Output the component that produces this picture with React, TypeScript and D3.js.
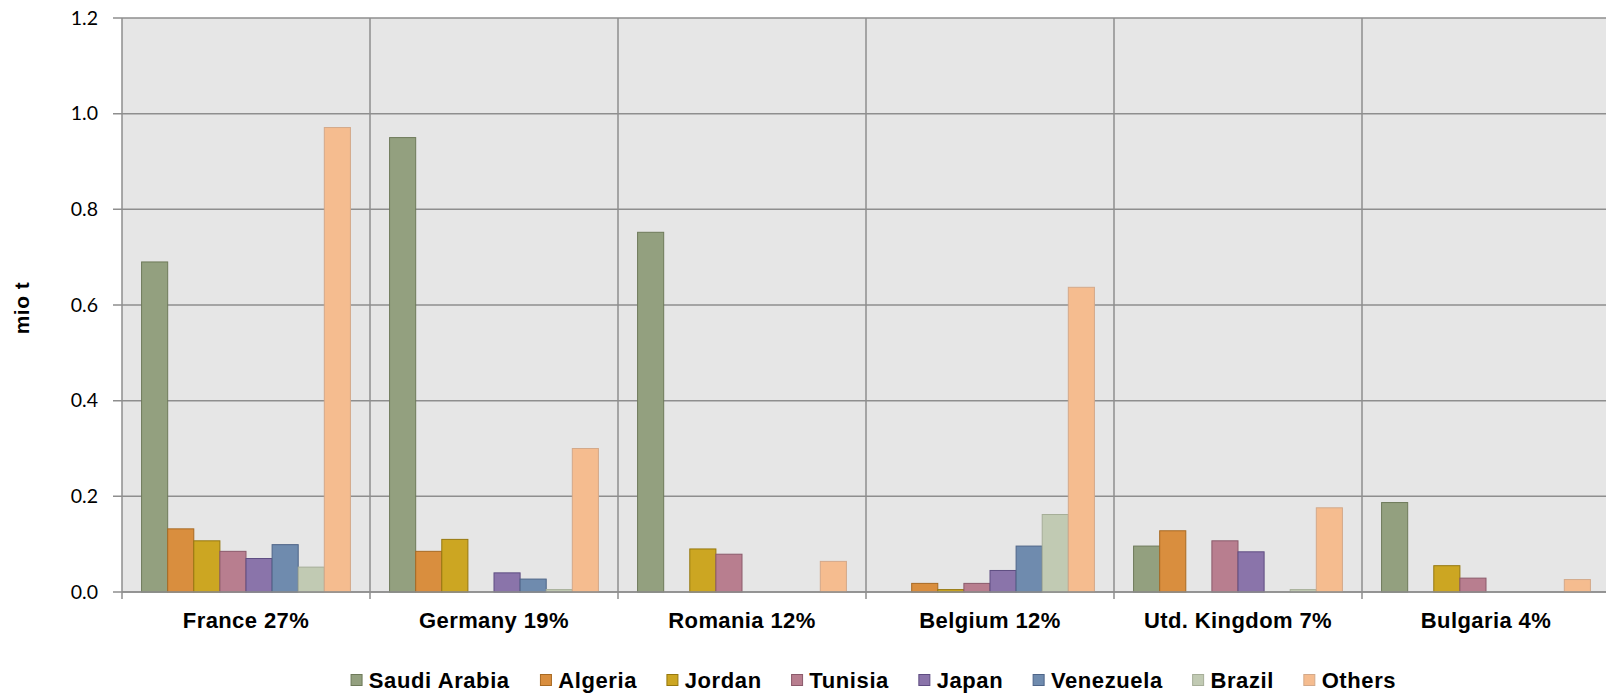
import React from "react";
import * as d3 from "d3";

const categories = ["France 27%", "Germany 19%", "Romania 12%", "Belgium 12%", "Utd. Kingdom 7%", "Bulgaria 4%"];
const seriesNames = ["Saudi Arabia", "Algeria", "Jordan", "Tunisia", "Japan", "Venezuela", "Brazil", "Others"];
const saudiArabia = [0.69, 0.95, 0.752, 0, 0.096, 0.187];
const algeria = [0.132, 0.085, 0, 0.018, 0.128, 0];
const jordan = [0.107, 0.11, 0.09, 0.005, 0, 0.055];
const tunisia = [0.085, 0, 0.079, 0.018, 0.107, 0.029];
const japan = [0.07, 0.04, 0, 0.045, 0.084, 0];
const venezuela = [0.099, 0.027, 0, 0.096, 0, 0];
const brazil = [0.052, 0.005, 0, 0.162, 0.005, 0];
const others = [0.971, 0.3, 0.064, 0.637, 0.176, 0.026];
const seriesValues = [saudiArabia, algeria, jordan, tunisia, japan, venezuela, brazil, others];
const yTicks = [0, 0.2, 0.4, 0.6, 0.8, 1.0, 1.2];

const fills = ["#93A07F", "#D98E3E", "#CCA622", "#B87E8F", "#8A74AA", "#6F8BAE", "#C1CAB3", "#F5BC8F"];
const strokes = ["#6E7A5A", "#A86A23", "#96780F", "#8B5A6B", "#5F4D82", "#4E6588", "#A6AE98", "#D3A98A"];

const W = 1606;
const H = 694;
const plotLeft = 122;
const plotRight = 1610;
const plotTop = 18;
const plotBottom = 592;
const gridColor = "#8E8E8E";
const boldFont = "'Liberation Sans', Arial, sans-serif";
const LEG_FS = 22;
const LEG_LS = 0.6;

function measure(text: string): number {
  if (typeof document === "undefined") return text.length * 12;
  const c = document.createElement("canvas");
  const ctx = c.getContext("2d");
  if (!ctx) return text.length * 12;
  ctx.font = `bold ${LEG_FS}px 'Liberation Sans', Arial, sans-serif`;
  return ctx.measureText(text).width + LEG_LS * text.length;
}

export default function App() {
  const x0 = d3.scaleBand<string>().domain(categories).range([plotLeft, plotRight]).paddingInner(0).paddingOuter(0);
  const x1 = d3
    .scaleBand<string>()
    .domain(seriesNames)
    .range([0, x0.bandwidth()])
    .paddingInner(0)
    .paddingOuter(0.75);
  const y = d3.scaleLinear().domain([0, 1.2]).range([plotBottom, plotTop]);

  // legend layout
  const markerSize = 12;
  const markerGap = 5.8;
  const itemGap = 29.9;
  const widths = seriesNames.map((s) => measure(s));
  const total = widths.reduce((a, b) => a + b, 0) + seriesNames.length * (markerSize + markerGap) + (seriesNames.length - 1) * itemGap;
  const legendCenter = (plotLeft + plotRight) / 2 + 7.6;
  let cursor = legendCenter - total / 2;
  const legendItems = seriesNames.map((s, i) => {
    const item = { name: s, x: cursor, i };
    cursor += markerSize + markerGap + widths[i] + itemGap;
    return item;
  });

  const boundaries = categories.map((c) => x0(c) as number).concat([plotRight]);

  return (
    <svg
      width={W}
      height={H}
      style={{ position: "absolute", left: 0, top: 0, background: "#fff" }}
      xmlns="http://www.w3.org/2000/svg"
    >
      <rect x={plotLeft} y={plotTop} width={plotRight - plotLeft} height={plotBottom - plotTop} fill="#E6E6E6" />
      {yTicks.map((t) => (
        <line key={"g" + t} x1={plotLeft - 9} x2={plotRight} y1={y(t)} y2={y(t)} stroke={gridColor} strokeWidth={1.5} />
      ))}
      {boundaries.map((b, i) => (
        <line key={"v" + i} x1={b} x2={b} y1={plotTop} y2={plotBottom + 7} stroke={gridColor} strokeWidth={1.5} />
      ))}
      {yTicks.map((t) => (
        <text
          key={"t" + t}
          x={98}
          y={y(t) + 6.8}
          textAnchor="end"
          fontFamily="Lato, 'Open Sans', sans-serif"
          fontSize={19.5}
          fill="#000"
        >
          {t.toFixed(1)}
        </text>
      ))}
      {categories.map((c, ci) => (
        <g key={c}>
          {seriesNames.map((s, si) => {
            const v = seriesValues[si][ci];
            if (!v) return null;
            const bx = (x0(c) as number) + (x1(s) as number);
            return (
              <rect
                key={s}
                x={bx}
                y={y(v)}
                width={x1.bandwidth()}
                height={y(0) - y(v)}
                fill={fills[si]}
                stroke={strokes[si]}
                strokeWidth={1}
              />
            );
          })}
          <text
            x={(x0(c) as number) + x0.bandwidth() / 2}
            y={627.7}
            textAnchor="middle"
            fontFamily={boldFont}
            fontWeight="bold"
            fontSize={22}
            letterSpacing={0.4}
            fill="#000"
          >
            {c}
          </text>
        </g>
      ))}
      <line x1={plotLeft} x2={plotRight} y1={plotBottom} y2={plotBottom} stroke={gridColor} strokeWidth={1.5} />
      <text
        transform="translate(29.3,308) rotate(-90)"
        textAnchor="middle"
        fontFamily={boldFont}
        fontWeight="bold"
        fontSize={21}
        letterSpacing={0.5}
        fill="#000"
      >
        mio t
      </text>
      {legendItems.map((it) => (
        <g key={it.name}>
          <rect
            x={it.x}
            y={674.5}
            width={markerSize - 1}
            height={markerSize - 1}
            fill={fills[it.i]}
            stroke={strokes[it.i]}
            strokeWidth={1}
          />
          <text
            x={it.x + markerSize + markerGap}
            y={688.3}
            fontFamily={boldFont}
            fontWeight="bold"
            fontSize={LEG_FS}
            letterSpacing={LEG_LS}
            fill="#000"
          >
            {it.name}
          </text>
        </g>
      ))}
    </svg>
  );
}
